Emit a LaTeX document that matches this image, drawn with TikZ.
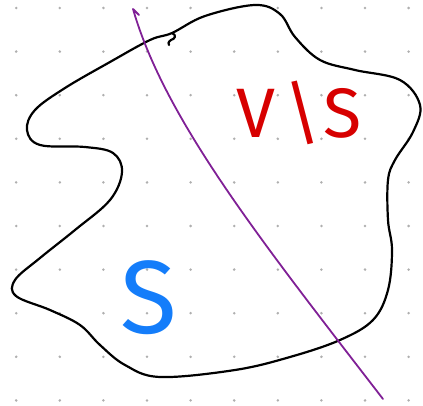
\documentclass[tikz,border=0pt]{standalone}
\usepackage{fontspec}
\newfontfamily\handfont{Fira Sans}
\usetikzlibrary{positioning}
\definecolor{dotgray}{RGB}{175,175,175}
\definecolor{cutpurple}{RGB}{128,32,150}
\definecolor{diffred}{RGB}{215,0,0}
\definecolor{setblue}{RGB}{20,125,250}

\begin{document}
\begin{tikzpicture}[
    x=1pt, y=-1pt,
    pen/.style={line width=2.2pt, line cap=round, line join=round},
    blob/.style={pen, draw=black},
    cut/.style={pen, line width=1.8pt, draw=cutpurple},
    hand/.style={inner sep=0pt}
]
    \useasboundingbox (0,0) rectangle (423,406);

    % dotted grid
    \foreach \i in {0,...,9}
        \foreach \j in {0,...,9}
            \fill[dotgray] (16.2+43.6*\i, 8+43.6*\j) circle (1.4);

    % the set (closed curve)
    \draw[blob] plot[smooth cycle, tension=0.6] coordinates {
        (172,33) (205,16) (255,5) (280,14) (295,37) (320,60) (355,70)
        (400,80) (420,105) (413,132) (395,160) (388,180) (388,220)
        (392,250) (388,290) (373,320) (340,340) (290,357) (235,370)
        (160,377) (125,365) (100,345) (80,325) (50,310) (16,296)
        (15,280) (40,258) (75,230) (110,200) (122,172) (113,153)
        (85,147) (40,145) (27,130) (35,110) (65,88) (110,62) (150,40)};
    \draw[blob] (172,33) .. controls (177,35) and (175,39) .. (171,40)
        .. controls (168,42) and (168,44) .. (169,45);

    % the cutting line
    \draw[cut] (139,15) -- (133,9)
        .. controls (165,120) and (262,242) .. (383,399);

    % labels
    \node[hand, text=diffred, font=\handfont\fontsize{70}{70}\selectfont]
        (diff) at (299,113) {V\hspace{9pt}\textbackslash\hspace{3pt}S};
    \node[hand, text=setblue, font=\handfont\fontsize{104}{104}\selectfont]
        (set) at (149,298) {S};
\end{tikzpicture}
\end{document}
